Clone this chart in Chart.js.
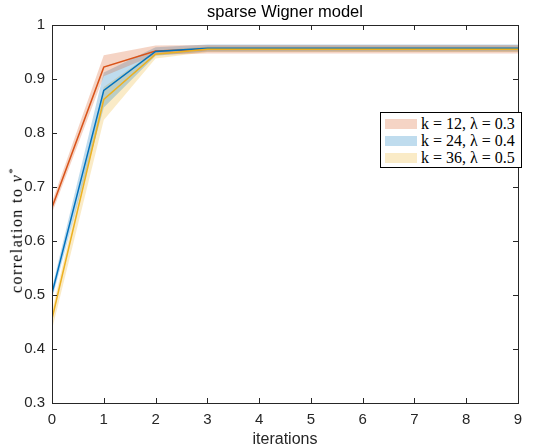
<!DOCTYPE html>
<html>
<head>
<meta charset="utf-8">
<script src="https://cdn.jsdelivr.net/npm/chart.js@4/dist/chart.umd.min.js"></script>
<style>
  body { margin: 0; background: #fff; }
  #wrap { position: relative; width: 535px; height: 446px; }
  #judul { position: absolute; left: 52px; width: 466px; top: 2px; text-align: center;
    font: 16.5px "Liberation Sans", Arial, sans-serif; color: #000; }
  #ylabel { position: absolute; left: 16px; top: 230px; transform: translate(-50%, -50%) rotate(-90deg);
    white-space: nowrap; font: 16px/1 "Liberation Serif", serif; letter-spacing: 1.4px; color: #000; }
  #legenda { position: absolute; left: 380px; top: 112px; width: 142px; height: 56px;
    border: 1.5px solid #000; background: #fff; box-sizing: border-box; padding: 2px 0 0 4px;
    font: 16px "Liberation Serif", serif; color: #000; }
  .baris { display: flex; align-items: center; height: 17px; white-space: nowrap; }
  .kotak { width: 32px; height: 10px; margin-right: 4px; flex: none; }
</style>
</head>
<body>
<div id="wrap">
  <canvas id="grafik" width="535" height="446"></canvas>
  <div id="judul">sparse Wigner model</div>
  <div id="ylabel">correlation to <i>v</i><sup style="font-size:11px">*</sup></div>
  <div id="legenda"></div>
</div>
<script>
// Data
const iterasi = [0, 1, 2, 3, 4, 5, 6, 7, 8, 9];
const yTicks = [0.3, 0.4, 0.5, 0.6, 0.7, 0.8, 0.9, 1];
const xTicks = [0, 1, 2, 3, 4, 5, 6, 7, 8, 9];

const label = ["k = 12, λ = 0.3", "k = 24, λ = 0.4", "k = 36, λ = 0.5"];
const warnaGaris = ["#D95319", "#0072BD", "#EDB120"];
const warnaArea = ["rgba(217,83,25,0.25)", "rgba(0,114,189,0.25)", "rgba(237,177,32,0.25)"];

const rata12 = [0.662, 0.922, 0.952, 0.955, 0.955, 0.955, 0.955, 0.955, 0.955, 0.955];
const atas12 = [0.672, 0.944, 0.962, 0.963, 0.963, 0.963, 0.963, 0.963, 0.963, 0.963];
const bawah12 = [0.652, 0.905, 0.945, 0.947, 0.947, 0.947, 0.947, 0.947, 0.947, 0.947];

const rata24 = [0.503, 0.879, 0.951, 0.957, 0.957, 0.957, 0.957, 0.957, 0.957, 0.957];
const atas24 = [0.513, 0.912, 0.959, 0.964, 0.964, 0.964, 0.964, 0.964, 0.964, 0.964];
const bawah24 = [0.493, 0.847, 0.943, 0.951, 0.951, 0.951, 0.951, 0.951, 0.951, 0.951];

const rata36 = [0.456, 0.862, 0.946, 0.955, 0.955, 0.955, 0.955, 0.955, 0.955, 0.955];
const atas36 = [0.470, 0.885, 0.953, 0.960, 0.960, 0.960, 0.960, 0.960, 0.960, 0.960];
const bawah36 = [0.436, 0.824, 0.938, 0.950, 0.950, 0.950, 0.950, 0.950, 0.950, 0.950];

const seri = [
  { rata: rata12, atas: atas12, bawah: bawah12 },
  { rata: rata24, atas: atas24, bawah: bawah24 },
  { rata: rata36, atas: atas36, bawah: bawah36 },
];

const titik = (arr) => arr.map((v, i) => ({ x: iterasi[i], y: v }));

const datasets = [];
seri.forEach((s, i) => {
  datasets.push({ data: titik(s.bawah), borderWidth: 0, pointRadius: 0, fill: false, order: 10 });
  datasets.push({ data: titik(s.atas), borderWidth: 0, pointRadius: 0, fill: "-1",
    backgroundColor: warnaArea[i], order: 10 });
});
seri.forEach((s, i) => {
  datasets.push({ data: titik(s.rata), borderColor: warnaGaris[i], borderWidth: 1.5,
    pointRadius: 0, fill: false, order: 3 - i });
});

// Kotak dan tick ke dalam ala MATLAB
const kotakPlugin = {
  id: "kotak",
  afterDatasetsDraw(chart) {
    const { ctx, chartArea: a, scales } = chart;
    ctx.save();
    ctx.strokeStyle = "#262626";
    ctx.lineWidth = 1;
    ctx.strokeRect(a.left + 0.5, a.top + 0.5, a.right - a.left, a.bottom - a.top);
    ctx.beginPath();
    xTicks.forEach((t) => {
      const px = Math.round(scales.x.getPixelForValue(t)) + 0.5;
      ctx.moveTo(px, a.bottom); ctx.lineTo(px, a.bottom - 5);
      ctx.moveTo(px, a.top); ctx.lineTo(px, a.top + 5);
    });
    yTicks.forEach((t) => {
      const py = Math.round(scales.y.getPixelForValue(t)) + 0.5;
      ctx.moveTo(a.left, py); ctx.lineTo(a.left + 5, py);
      ctx.moveTo(a.right, py); ctx.lineTo(a.right - 5, py);
    });
    ctx.stroke();
    ctx.restore();
  },
};

const fontTick = { family: "'Liberation Sans', Arial, sans-serif", size: 15 };

new Chart(document.getElementById("grafik"), {
  type: "line",
  data: { datasets },
  options: {
    responsive: false,
    animation: false,
    layout: { padding: { top: 25, right: 17, left: 0, bottom: 0 } },
    plugins: {
      legend: { display: false },
      tooltip: { enabled: false },
      filler: { drawTime: "beforeDatasetsDraw" },
    },
    scales: {
      x: {
        type: "linear", min: 0, max: 9,
        grid: { display: false, drawTicks: false },
        border: { display: false },
        afterBuildTicks: (s) => { s.ticks = xTicks.map((v) => ({ value: v })); },
        ticks: { font: fontTick, color: "#262626", padding: 8, maxRotation: 0 },
        title: { display: true, text: "iterations",
          font: { family: fontTick.family, size: 16, lineHeight: 0.8 },
          color: "#262626", padding: { top: 0, bottom: 0 } },
        afterFit: (s) => { s.height = 43; },
      },
      y: {
        type: "linear", min: 0.3, max: 1,
        grid: { display: false, drawTicks: false },
        border: { display: false },
        afterBuildTicks: (s) => { s.ticks = yTicks.map((v) => ({ value: v })); },
        ticks: { font: fontTick, color: "#262626", padding: 7,
          callback: (v) => String(Math.round(v * 10) / 10) },
        afterFit: (s) => { s.width = 52; },
      },
    },
  },
  plugins: [kotakPlugin],
});

// Legenda HTML di dalam area plot
const legenda = document.getElementById("legenda");
label.forEach((teks, i) => {
  const baris = document.createElement("div");
  baris.className = "baris";
  baris.innerHTML = '<span class="kotak" style="background:' + warnaArea[i] + '"></span>' + teks;
  legenda.appendChild(baris);
});
</script>
</body>
</html>
